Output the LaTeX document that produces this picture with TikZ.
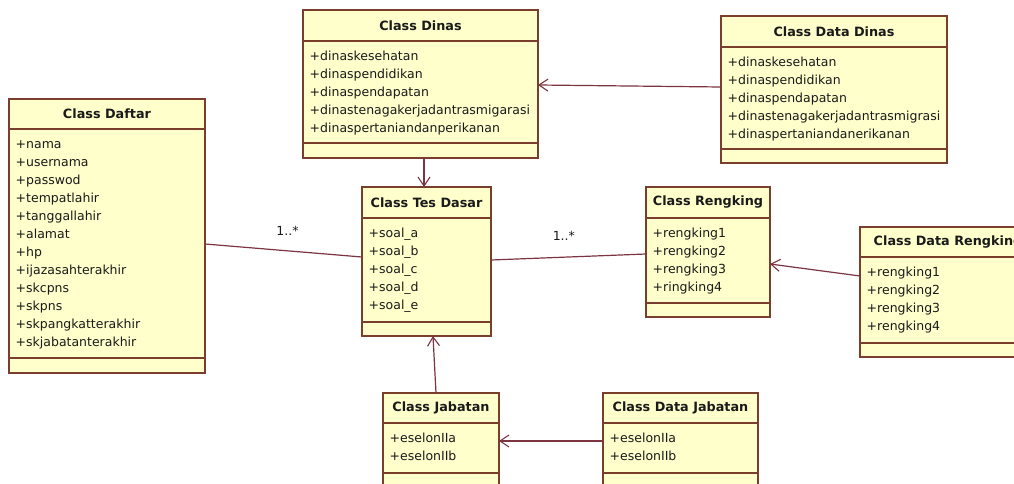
\documentclass[tikz,border=0pt]{standalone}
\usepackage{fontspec}
\setmainfont{DejaVu Sans}
\usetikzlibrary{arrows.meta,calc}
\definecolor{boxfill}{HTML}{FFFFCC}
\definecolor{boxline}{HTML}{7A3E2C}
\definecolor{connline}{HTML}{7B3440}
\definecolor{txt}{HTML}{1A1A1A}
\tikzset{
  cbox/.style={draw=boxline, fill=boxfill, line width=1.3pt, rectangle, inner sep=0pt, outer sep=0pt},
  cline/.style={draw=boxline, line width=1.3pt},
  ctitle/.style={font=\fontsize{12.8}{15}\selectfont\bfseries, text=txt, inner sep=0pt},
  cattr/.style={font=\fontsize{12.5}{15}\selectfont, text=txt, inner sep=0pt, anchor=base west},
  conn/.style={draw=connline, line width=1.2pt},
  nav/.style={conn, -{Straight Barb[length=9pt,width=12pt,line width=1.1pt]}},
  mult/.style={font=\fontsize{12.5}{15}\selectfont, text=txt, inner sep=0pt}
}
\newcommand\umlclass[9]{%
  \pgfmathsetmacro\cw{#4-#2}\pgfmathsetmacro\ch{#5-#3}%
  \node[cbox, minimum width=\cw pt, minimum height=\ch pt, anchor=north west] (#1) at (#2,#3) {};
  \draw[cline] (#2,#6) -- (#4,#6);
  \draw[cline] (#2,#7) -- (#4,#7);
  \node[ctitle] (#1-title) at ({(#2+#4)/2},{(#3+#6)/2}) {#8};
  \foreach \aattr [count=\cnt] in {#9} \node[cattr] at ({#2+6.5},{#6+19.5+18*(\cnt-1)}) {\aattr};
}
\begin{document}
\begin{tikzpicture}[x=1pt,y=-1pt]
\useasboundingbox[fill=white] (0,0) rectangle (1014,484);
\clip (0,0) rectangle (1014,484);

\umlclass{daftar}{9}{99}{205}{373}{129}{358}{Class Daftar}{+nama,+usernama,+passwod,+tempatlahir,+tanggallahir,+alamat,+hp,+ijazasahterakhir,+skcpns,+skpns,+skpangkatterakhir,+skjabatanterakhir}
\umlclass{dinas}{303}{10}{538}{158}{41}{143}{Class Dinas}{+dinaskesehatan,+dinaspendidikan,+dinaspendapatan,+dinastenagakerjadantrasmigarasi,+dinaspertaniandanperikanan}
\umlclass{datadinas}{721}{16}{947}{163}{47}{149}{Class Data Dinas}{+dinaskesehatan,+dinaspendidikan,+dinaspendapatan,+dinastenagakerjadantrasmigrasi,+dinaspertaniandanerikanan}
\umlclass{tesdasar}{362}{187}{491}{336}{218}{322}{Class Tes Dasar}{+soal\_a,+soal\_b,+soal\_c,+soal\_d,+soal\_e}
\umlclass{rengking}{646}{187}{770}{317}{218}{303}{Class Rengking}{+rengking1,+rengking2,+rengking3,+ringking4}
\umlclass{datarengking}{860}{227}{1036}{357}{257}{343}{Class Data Rengking}{+rengking1,+rengking2,+rengking3,+rengking4}
\umlclass{jabatan}{383}{393}{499}{520}{423}{473}{Class Jabatan}{+eselonIIa,+eselonIIb}
\umlclass{datajabatan}{603}{393}{758}{520}{423}{473}{Class Data Jabatan}{+eselonIIa,+eselonIIb}

% connectors
\draw[nav] ($(datadinas.north west)+(0,71)$) -- ($(dinas.north east)+(0,75)$);
\draw[nav] ($(dinas.south west)+(121,0)$) -- ($(tesdasar.north west)+(62,0)$);
\draw[conn] ($(daftar.north east)+(0,145)$) -- node[pos=0.5, above=14pt, mult, xshift=4pt] (m1) {1..*} ($(tesdasar.north west)+(0,70)$);
\draw[conn] ($(tesdasar.north east)+(0,73)$) -- node[pos=0.47, above=16pt, mult] (m2) {1..*} ($(rengking.north west)+(0,67)$);
\draw[nav] ($(datarengking.north west)+(0,49)$) -- ($(rengking.north east)+(0,77)$);
\draw[nav] ($(jabatan.north west)+(53,0)$) -- ($(tesdasar.south west)+(71,0)$);
\draw[nav] ($(datajabatan.north west)+(0,48)$) -- ($(jabatan.north east)+(0,48)$);
\end{tikzpicture}
\end{document}
